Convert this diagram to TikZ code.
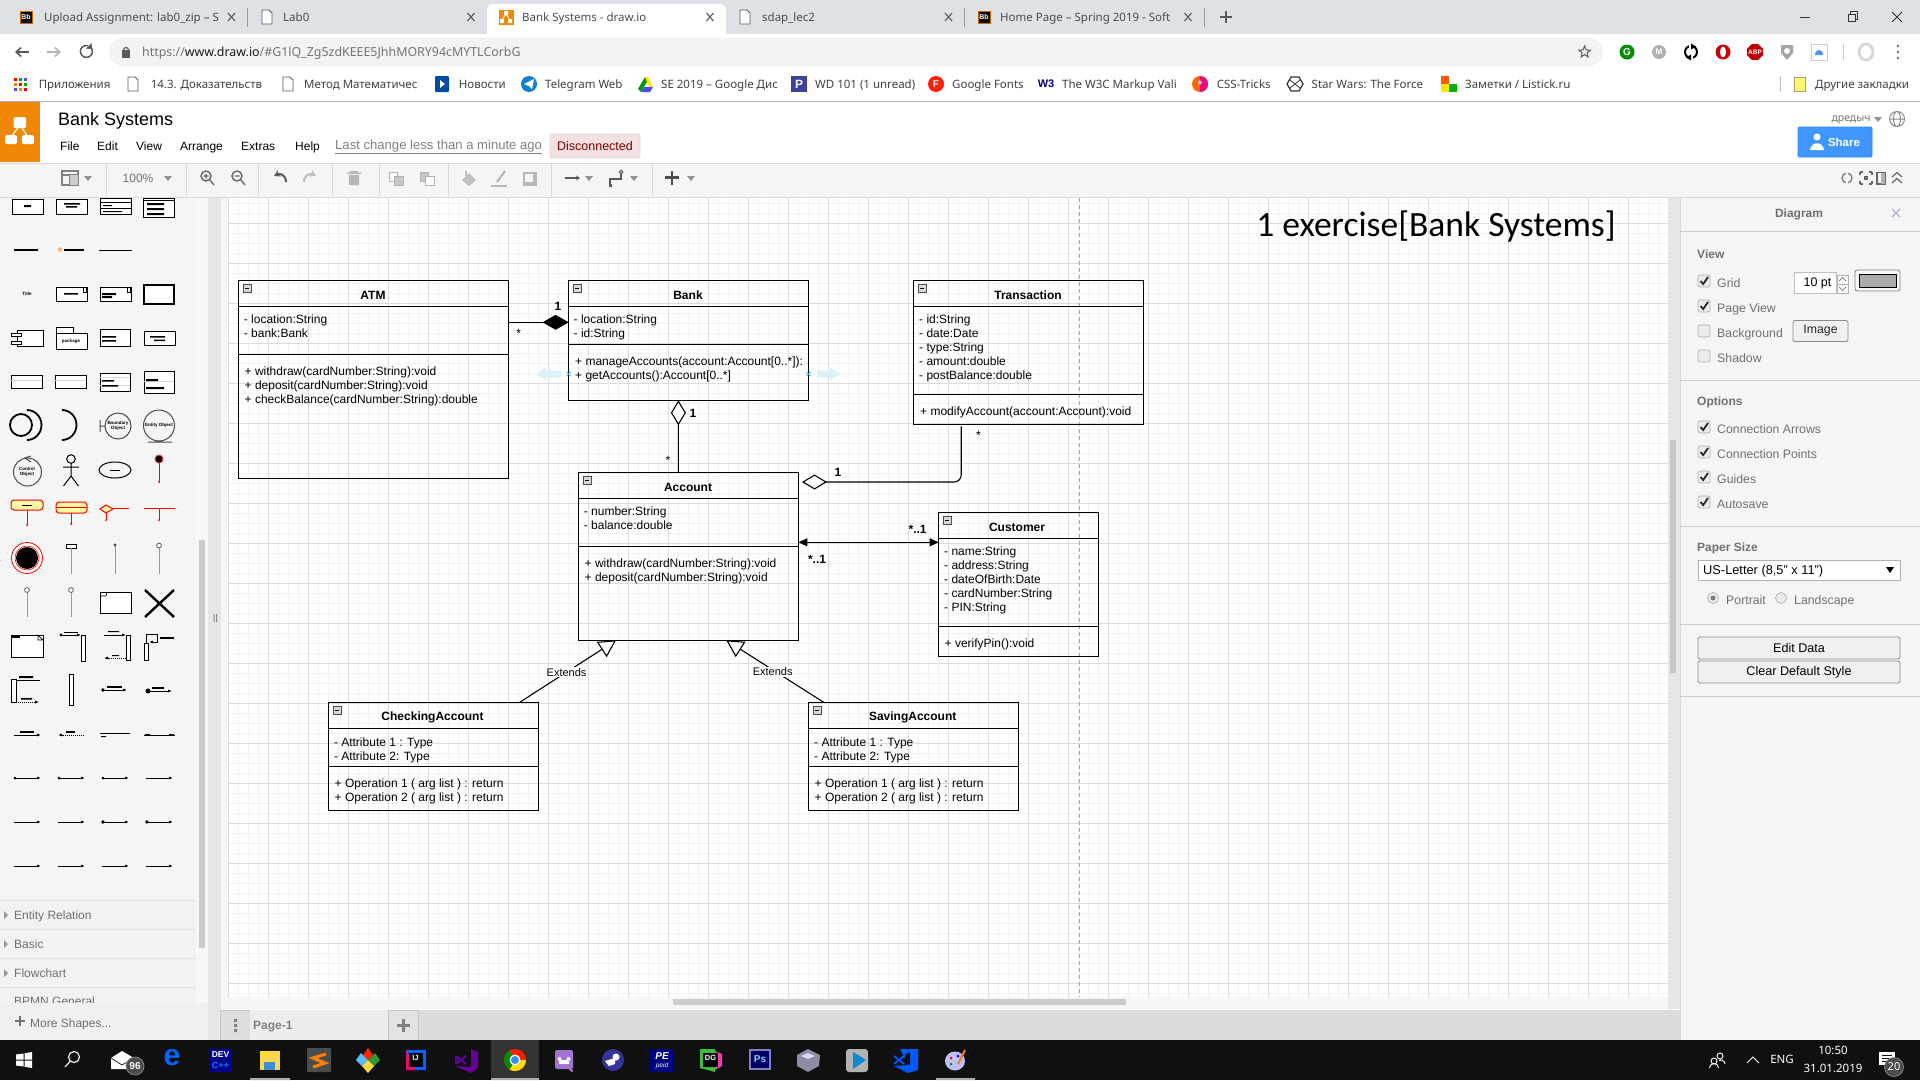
\documentclass[tikz,border=0pt]{standalone}
\usepackage{fontspec}
\setmainfont{Liberation Sans}
\newfontfamily\uifont{Noto Sans}
\newfontfamily\titlefont{Carlito}
\usetikzlibrary{arrows.meta,calc,shapes.geometric}
\definecolor{tabbar}{HTML}{DEE1E6}
\definecolor{pill}{HTML}{F1F3F4}
\definecolor{panel}{HTML}{F5F5F5}
\definecolor{border}{HTML}{DADADA}
\definecolor{icongray}{HTML}{808080}
\definecolor{uitxt}{HTML}{707070}
\definecolor{gutter}{HTML}{E6E6E6}
\definecolor{orng}{HTML}{F08705}
\definecolor{grbig}{HTML}{DCDCDC}
\definecolor{grsmall}{HTML}{F2F2F2}
\definecolor{hoverb}{HTML}{DDF1FB}
\definecolor{hoverx}{HTML}{29B6F2}
\definecolor{taskb}{HTML}{101010}
\newcounter{uictr}
\tikzset{
  umlbox/.style={draw=black,line width=1.1pt,inner sep=0pt,outer sep=0pt,anchor=north west},
  umltitle/.style={font=\fontsize{12}{14}\selectfont\bfseries,inner sep=0pt,text=black},
  umltext/.style={font=\fontsize{12}{14}\selectfont,inner sep=0pt,anchor=north west,align=left,text=black},
  umlsep/.style={line width=1.1pt,draw=black},
  conn/.style={line width=1.1pt,draw=black},
  edgelabel/.style={font=\fontsize{11}{13}\selectfont,inner sep=1pt,fill=white,text=black},
  mult/.style={font=\fontsize{12}{14}\selectfont,inner sep=0pt,text=black},
  multb/.style={font=\fontsize{12}{14}\selectfont\bfseries,inner sep=0pt,text=black},
  uilabel/.style={font=\fontsize{12.3}{14}\selectfont,inner sep=0pt,anchor=west,text=uitxt,text height=9pt,text depth=2pt,yshift=-1.5pt},
  chrome/.style={font=\uifont\fontsize{11.5}{13}\selectfont,inner sep=0pt,anchor=west,text=black!75,text height=9pt,text depth=2pt,yshift=-1pt},
  tabtxt/.style={font=\uifont\fontsize{11.5}{13}\selectfont,inner sep=0pt,anchor=west,text=black!70,text height=9pt,text depth=2pt,yshift=-1pt},
  menu/.style={font=\fontsize{12}{14}\selectfont,inner sep=0pt,anchor=west,text=black,text height=9pt,text depth=2pt,yshift=-.5pt},
  tbicon/.style={draw=icongray,line width=1.4pt,fill=none},
  tbsep/.style={draw=border,line width=.8pt},
  sbshape/.style={draw=black,line width=1pt,fill=white},
  sbline/.style={draw=black,line width=.8pt},
  sbred/.style={draw=red,line width=1pt},
  sbgray/.style={draw=black!40,line width=.8pt},
  sidetxt/.style={font=\fontsize{12}{14}\selectfont,inner sep=0pt,anchor=west,text=uitxt,text height=9pt,text depth=2pt,yshift=-.7pt},
  tiny/.style={font=\fontsize{4.5}{5}\selectfont\bfseries,inner sep=0pt,text=black,align=center},
  btn/.style={draw=black!45,line width=.8pt,fill=black!6,rounded corners=1.5pt},
  taskt/.style={inner sep=0pt,text=white,font=\uifont\fontsize{11.5}{13}\selectfont,text height=9pt,text depth=2pt},
}
\newcommand\uit[4][uilabel]{\stepcounter{uictr}\node[#1] (ui\arabic{uictr}) at (#2,#3) {#4};}
\newcommand\mystrut{\rule[-3.5pt]{0pt}{15pt}}
\newcommand\umlclass[7]{%
  \node[umlbox,minimum width=#4pt-#2pt,minimum height=#7pt-#3pt] (#1) at (#2,#3) {};
  \draw[umlsep] (#2,#5) -- (#4,#5);
  \draw[umlsep] (#2,#6) -- (#4,#6);
  \draw[draw=black!70,fill=black!15,line width=.7pt] ($(#2,#3)+(4.5,4.5)$) rectangle +(8,8);
  \draw[draw=black,line width=.8pt] ($(#2,#3)+(6.5,8.5)$) -- +(4,0);
}
\newcommand\chkbox[3]{%
  \draw[draw=black!30,fill=black!8,rounded corners=2pt,line width=.7pt] (#1-6,#2-6) rectangle (#1+6,#2+6);
  \ifnum#3=1 \draw[draw=black!85,line width=1.8pt] (#1-3.5,#2) -- (#1-.8,#2+3) -- (#1+4,#2-4); \fi
}
\newcommand\docico[2]{\draw[draw=black!65,line width=.9pt,fill=white] (#1-5,#2-7) -- (#1+2,#2-7) -- (#1+5,#2-4) -- (#1+5,#2+7) -- (#1-5,#2+7) -- cycle;}
\newcommand\bbico[2]{\fill[orange!80!black] (#1-6.5,#2-6.5) rectangle (#1+6.5,#2+6.5); \fill[black] (#1-5.5,#2-5.5) rectangle (#1+5.5,#2+5.5);
  \uit[{font=\fontsize{7}{8}\selectfont\bfseries,inner sep=0pt,text=white}]{#1}{#2}{Bb}}
\newcommand\drawico[2]{\fill[orng] (#1-7.5,#2-7.5) rectangle (#1+7.5,#2+7.5);
  \draw[white,line width=.8pt] (#1,#2-3) -- (#1-4,#2+3) (#1,#2-3) -- (#1+4,#2+3);
  \fill[white] (#1-2,#2-6) rectangle (#1+2,#2-2) (#1-6,#2+2) rectangle (#1-2,#2+6) (#1+2,#2+2) rectangle (#1+6,#2+6);}
\newcommand\tabx[2]{\draw[draw=black!65,line width=1.1pt] (#1-3.5,#2-4) -- (#1+3.5,#2+4) (#1-3.5,#2+4) -- (#1+3.5,#2-4);}
\newcommand\tri[2]{\fill[icongray!85] (#1-4,#2-2) -- (#1+4,#2-2) -- (#1,#2+3) -- cycle;}
\newcommand\hdarrow[3]{\draw[sbline,-{Latex[length=4pt,width=3pt]}] (#1,#3) -- (#2,#3);}
\begin{document}
\begin{tikzpicture}[x=1pt,y=-1pt]
\useasboundingbox (0,0) rectangle (1920,1080);
% ---------- base
\fill[white] (0,0) rectangle (1920,1080);
\fill[tabbar] (0,0) rectangle (1920,34);
% canvas grid
\begin{scope}
\clip (228,198) rectangle (1668,997);
\foreach \x in {228,238,...,1668} \draw[grsmall,line width=.8pt] (\x,198) -- (\x,997);
\foreach \y in {203,213,...,993} \draw[grsmall,line width=.8pt] (228,\y) -- (1668,\y);
\foreach \x in {228,268,...,1668} \draw[grbig,line width=.8pt] (\x,198) -- (\x,997);
\foreach \y in {223,263,...,983} \draw[grbig,line width=.8pt] (228,\y) -- (1668,\y);
\draw[black!35,line width=.8pt,dash pattern=on 4pt off 3pt] (1079,198) -- (1079,997);
\end{scope}
% gutters
\fill[panel] (0,198) rectangle (196,1003);
\fill[black!3] (196,198) rectangle (208,1003);
\fill[gutter] (208,198) rectangle (221,1040);
\fill[panel] (221,198) rectangle (228,1010);
\fill[panel] (228,997) rectangle (1668,1010);
\fill[black!20] (199,540) rectangle (205,948);
\fill[black!45] (213.5,614) rectangle (214.5,622) (216,614) rectangle (217,622);
\fill[black!20] (673,999) rectangle (1126,1005);
\fill[gutter] (1668,198) rectangle (1680,1040);
\fill[black!22] (1670,440) rectangle (1676,673);
% ---------- tab strip
\fill[white,rounded corners=6pt] (487,4) rectangle (726,40);
\fill[white] (480,34) rectangle (733,40);
\fill[white] (0,34) rectangle (1920,100);
\bbico{26}{17}
\uit[tabtxt]{44}{17}{Upload Assignment: lab0\_zip – S}
\tabx{231.5}{17}
\draw[black!40,line width=.8pt] (247.5,8) -- (247.5,27);
\docico{267}{17}
\uit[tabtxt]{283}{17}{Lab0}
\tabx{471}{17}
\drawico{506}{17}
\uit[tabtxt]{522}{17}{Bank Systems - draw.io}
\tabx{710}{17}
\docico{745}{17}
\uit[tabtxt]{762}{17}{sdap\_lec2}
\tabx{948.5}{17}
\draw[black!40,line width=.8pt] (964,8) -- (964,27);
\bbico{984}{17}
\uit[tabtxt]{1000}{17}{Home Page – Spring 2019 - Soft}
\tabx{1188}{17}
\draw[black!40,line width=.8pt] (1204,8) -- (1204,27);
\draw[black!65,line width=1.5pt] (1220,17) -- (1232,17) (1226,11) -- (1226,23);
\draw[black!80,line width=.9pt] (1800,17) -- (1810,17);
\draw[black!80,line width=.9pt] (1848,14) rectangle (1855,21) (1850,14) -- (1850,11.5) -- (1857.5,11.5) -- (1857.5,19) -- (1855,19);
\draw[black!80,line width=.9pt] (1892,12) -- (1902,22) (1892,22) -- (1902,12);
% ---------- address bar
\fill[pill,rounded corners=14pt] (109,38) rectangle (1603,66);
\draw[black!65,line width=1.6pt,-{Straight Barb[length=5pt,width=9pt]}] (29,52) -- (15,52);
\draw[black!30,line width=1.6pt,-{Straight Barb[length=5pt,width=9pt]}] (47,52) -- (61,52);
\draw[black!65,line width=1.5pt] (91,47.5) arc (-40:285:6);
\fill[black!65] (91.5,43) -- (92,49) -- (86,48.5) -- cycle;
\fill[black!65] (122,50) rectangle (130,58);
\draw[black!65,line width=1.2pt] (123.5,50) arc (180:360:2.5);
\node[font=\uifont\fontsize{12.4}{14}\selectfont,inner sep=0pt,anchor=west,text=black!55,text height=9pt,text depth=3pt] (url) at (142,53.5) {https://\textcolor{black!90}{www.draw.io}/\#G1lQ\_Zg5zdKEEE5JhhMORY94cMYTLCorbG};
\node[star,star points=5,star point ratio=2.3,draw=black!60,line width=1.1pt,inner sep=0pt,minimum size=12pt] (favstar) at (1584.6,52) {};
% extensions
\fill[green!55!black] (1627,52) circle (7.5);
\uit[{font=\fontsize{10}{11}\selectfont\bfseries,inner sep=0pt,text=white}]{1627}{52}{G}
\fill[black!30] (1659,52) circle (7);
\uit[{font=\fontsize{8}{9}\selectfont\bfseries,inner sep=0pt,text=white}]{1659}{52}{M}
\draw[black,line width=2pt] (1691,52) circle (6);
\fill[white] (1689,44) -- (1693,44) -- (1693,49) -- (1689,49) -- cycle (1689,55) rectangle (1693,60);
\fill[black] (1691,43.5) -- (1696,46.5) -- (1691,49.5) -- cycle (1691,54.5) -- (1686,57.5) -- (1691,60.5) -- cycle;
\fill[red!80!black] (1723,52) circle (7.5);
\fill[white] (1723,52) ellipse (3 and 5.5);
\node[regular polygon,regular polygon sides=8,fill=red!75!black,minimum size=17pt,inner sep=0pt] (abp) at (1755,52) {};
\uit[{font=\fontsize{6.5}{7}\selectfont\bfseries,inner sep=0pt,text=white}]{1755}{52}{ABP}
\fill[black!35] (1781,45) -- (1793,45) -- (1793,53) -- (1787,60) -- (1781,53) -- cycle;
\fill[white] (1787,51) circle (3);
\draw[black!20,fill=white,line width=.7pt] (1811,44) rectangle (1827,60);
\fill[blue!60!cyan!70] (1815,55) -- (1823,55) -- (1823,54) arc (0:-180:4) -- cycle;
\draw[black!20,line width=.8pt] (1843,44) -- (1843,60);
\draw[black!15,line width=3pt] (1866,52) ellipse (7 and 8);
\fill[black!55] (1898,46) circle (1.3) (1898,52) circle (1.3) (1898,58) circle (1.3);
% ---------- bookmarks
\foreach \xa/\ya/\c in {14/78/red,19/78/green!70!black,24/78/blue!70,14/83/orange,19/83/red,24/83/green!70!black,14/88/blue!70,19/88/orange,24/88/red}
  \fill[\c] (\xa,\ya) rectangle +(3.4,3.4);
\uit[chrome]{38.6}{84}{Приложения}
\docico{133}{84}
\uit[chrome]{150.6}{84}{14.3. Доказательств}
\docico{288}{84}
\uit[chrome]{304}{84}{Метод Математичес}
\fill[blue!50!black!70!cyan,rounded corners=1pt] (435,76) rectangle (449,92);
\fill[white] (440,80) -- (445,84) -- (440,88) -- cycle;
\uit[chrome]{458.7}{84}{Новости}
\fill[cyan!65!blue] (529,84) circle (8);
\fill[white] (524,84) -- (534,79) -- (532,89) -- (529,86) -- cycle;
\uit[chrome]{545}{84}{Telegram Web}
\fill[green!60!black] (645,77) -- (638,89) -- (641,92) -- (648,80) -- cycle;
\fill[yellow!90!orange] (645,77) -- (648,77) -- (653,87) -- (649,87) -- cycle;
\fill[blue!70] (641,92) -- (650,92) -- (653,87) -- (644,87) -- cycle;
\uit[chrome]{661}{84}{SE 2019 – Google Дис}
\fill[blue!50!black!75] (791,76) rectangle (807,92);
\uit[{font=\fontsize{12}{13}\selectfont\bfseries,inner sep=0pt,text=white}]{799}{84}{P}
\uit[chrome]{815}{84}{WD 101 (1 unread)}
\fill[red!75!orange] (936,84) circle (8);
\uit[{font=\fontsize{10}{11}\selectfont\bfseries,inner sep=0pt,text=white}]{936}{84}{F}
\uit[chrome]{952}{84}{Google Fonts}
\uit[{font=\fontsize{11}{12}\selectfont\bfseries,inner sep=0pt,text=blue!50!black}]{1046}{84}{W3}
\uit[chrome]{1062}{84}{The W3C Markup Vali}
\fill[orange!80!red] (1200,84) circle (8);
\fill[magenta!80!red] (1200,92) arc (90:-90:8) -- cycle;
\uit[{font=\fontsize{11}{12}\selectfont\bfseries,inner sep=0pt,text=white}]{1200}{85}{*}
\uit[chrome]{1216.6}{84}{CSS-Tricks}
\node[regular polygon,regular polygon sides=6,draw=black!80,line width=1.2pt,minimum size=16pt,inner sep=0pt] (swhex) at (1295,84) {};
\draw[black!80,line width=.8pt] (1290,80) -- (1300,88) (1300,80) -- (1290,88);
\uit[chrome]{1311.5}{84}{Star Wars: The Force}
\fill[orange!70!red] (1441,76) rectangle (1449,84);
\fill[yellow!90!orange] (1441,84) rectangle (1449,92);
\fill[green!70!black] (1449,84) rectangle (1457,92);
\uit[chrome]{1465}{84}{Заметки / Listick.ru}
\draw[black!25,line width=.8pt] (1780,76) -- (1780,92);
\draw[orange!60!black!60,fill=yellow!55,line width=.7pt] (1794,77) rectangle (1805,91);
\uit[chrome]{1815}{84}{Другие закладки}
\draw[black!30,line width=.9pt] (0,101) -- (1920,101);
% ---------- draw.io header
\fill[orng] (0,102) rectangle (40,162);
\draw[white,line width=1.2pt] (20,125) -- (11,137) (20,125) -- (28,137);
\fill[white,rounded corners=1.5pt] (13.5,117) rectangle (26,128) (5,135) rectangle (17,144) (22,135) rectangle (34,144);
\node[font=\fontsize{18}{20}\selectfont,inner sep=0pt,anchor=west,text=black] (doctitle) at (58,121) {Bank Systems};
\uit[menu]{60}{146}{File}
\uit[menu]{97}{146}{Edit}
\uit[menu]{136}{146}{View}
\uit[menu]{180}{146}{Arrange}
\uit[menu]{241}{146}{Extras}
\uit[menu]{295}{146}{Help}
\node[font=\fontsize{13.1}{15}\selectfont,inner sep=0pt,anchor=west,text=black!50,text height=9pt,text depth=2pt] (lastchange) at (335,146) {\underline{Last change less than a minute ago}};
\node[draw=red!30!black!15,fill=red!60!black!12,rounded corners=1pt,font=\fontsize{12.5}{14}\selectfont,text=red!50!black,inner sep=0pt,minimum width=90pt,minimum height=24pt,line width=.7pt] (disc) at (595,146) {Disconnected};
\uit[{font=\uifont\fontsize{10.5}{12}\selectfont,inner sep=0pt,text=black!55}]{1851}{120}{дредыч}
\tri{1878}{119}
\draw[black!45,line width=1pt] (1897,119) circle (7.5) (1897,119) ellipse (3.5 and 7.5) (1889.5,119) -- (1904.5,119);
\node[fill=blue!55!cyan!75,draw=blue!60!cyan!80,line width=.6pt,rounded corners=1pt,minimum width=74pt,minimum height=30pt,inner sep=0pt] (sharebtn) at (1835,142) {};
\fill[white] (1817,137) circle (3.5) (1810,150) .. controls (1811,141) and (1823,141) .. (1824,150) -- cycle;
\node[font=\fontsize{11.5}{13}\selectfont\bfseries,text=white,inner sep=0pt] (sharetxt) at (1844,142) {Share};
% ---------- toolbar
\fill[panel] (0,163) rectangle (1920,197);
\draw[border,line width=.8pt] (0,163) -- (1920,163) (0,197) -- (1920,197);
\foreach \s in {106.5,186,258,332,379,448,551,652} \draw[tbsep] (\s,164) -- (\s,196);
\draw[tbicon] (62,171) rectangle (78,185) (62,175) -- (78,175) (70,175) -- (70,185);
\fill[black!20] (70,175) rectangle (78,185);
\tri{88}{178}
\uit[{font=\fontsize{12}{14}\selectfont,inner sep=0pt,text=uitxt}]{138}{178}{100\%}
\tri{168}{178}
\draw[draw=black!60,line width=1.4pt] (206,176) circle (5) (210,180) -- (214,185) (203.5,176) -- (208.5,176) (206,173.5) -- (206,178.5);
\draw[draw=black!60,line width=1.4pt] (237,176) circle (5) (241,180) -- (245,185) (234.5,176) -- (239.5,176);
\draw[draw=black!65,line width=2pt,-{Stealth[length=6pt,width=7pt]}] (286,182) .. controls (286,175) and (280,173) .. (274,176);
\draw[draw=black!25,line width=2pt,-{Stealth[length=6pt,width=7pt]}] (304,182) .. controls (304,175) and (310,173) .. (316,176);
\fill[black!28] (347,172.5) rectangle (361,174) (350,171) rectangle (358,172.5) (349,175) rectangle (359,185);
\draw[black!30,fill=white,line width=1pt] (389,172) rectangle (397,181);
\draw[black!30,fill=black!22,line width=1pt] (394,176) rectangle (403,185);
\draw[black!30,fill=black!22,line width=1pt] (420,172) rectangle (428,181);
\draw[black!30,fill=white,line width=1pt] (425,176) rectangle (434,185);
\fill[black!25] (469,173) -- (476,180) -- (469,186) -- (462,180) -- cycle;
\draw[black!25,line width=1.1pt] (466,176) -- (466,171);
\draw[black!28,line width=2.2pt] (497,182) -- (505,171);
\fill[black!28] (491,185) rectangle (507,187);
\fill[black!28] (523,172) rectangle (537,186);
\fill[panel] (525,174) rectangle (533,182);
\draw[black!65,line width=1.4pt,-{Stealth[length=4pt,width=5pt]}] (565,178) -- (580,178);
\tri{589}{178}
\draw[black!65,line width=1.3pt] (610,185) -- (610,179) -- (621,179) -- (621,172);
\fill[black!65] (608.5,183.5) rectangle (611.5,186.5);
\draw[black!65,fill=panel,line width=1pt] (621,172) circle (1.8);
\tri{634}{178}
\draw[black!70,line width=2.6pt] (665,177.5) -- (679,177.5) (672,170.5) -- (672,184.5);
\tri{691}{178}
% right icons
\draw[black!55,line width=1.2pt] (1847,178) circle (5);
\fill[panel] (1846,171) rectangle (1848,185);
\draw[black!60,line width=1.3pt] (1860,172) -- (1863,172) (1869,172) -- (1872,172) (1860,184) -- (1863,184) (1869,184) -- (1872,184) (1860,172) -- (1860,175) (1872,172) -- (1872,175) (1860,184) -- (1860,181) (1872,184) -- (1872,181);
\fill[black!60] (1864,176) rectangle (1868,180);
\draw[black!60,line width=1.1pt] (1877,172.5) rectangle (1885,184);
\fill[black!30] (1881,173) rectangle (1885,184);
\draw[black!60,line width=1.2pt] (1892,177) -- (1897,172.5) -- (1902,177) (1892,183) -- (1897,178.5) -- (1902,183);
% ---------- right panel
\fill[panel] (1680,198) rectangle (1920,1040);
\draw[border,line width=.8pt] (1680,198) -- (1680,1040);
\foreach \yy in {231,380,526,624,696} \draw[black!20,line width=.8pt] (1680,\yy) -- (1920,\yy);
\uit[{font=\fontsize{12}{14}\selectfont\bfseries,inner sep=0pt,text=uitxt}]{1799}{214}{Diagram}
\draw[blue!30!black!30,line width=1.3pt] (1892,209) -- (1900,217) (1892,217) -- (1900,209);
\tikzset{phead/.style={font=\fontsize{12}{14}\selectfont\bfseries,inner sep=0pt,anchor=west,text=uitxt,text height=9pt,text depth=2pt}}
\uit[phead]{1697}{255}{View}
\uit[phead]{1697}{402}{Options}
\uit[phead]{1697}{547.5}{Paper Size}
\chkbox{1704}{281}{1}\uit{1717}{282}{Grid}
\chkbox{1704}{306}{1}\uit{1717}{307}{Page View}
\chkbox{1704}{331}{0}\uit{1717}{332}{Background}
\chkbox{1704}{356}{0}\uit{1717}{357}{Shadow}
\chkbox{1704}{427}{1}\uit{1717}{428}{Connection Arrows}
\chkbox{1704}{452}{1}\uit{1717}{453}{Connection Points}
\chkbox{1704}{477}{1}\uit{1717}{478}{Guides}
\chkbox{1704}{502}{1}\uit{1717}{503}{Autosave}
\node[fill=white,draw=black!25,line width=.7pt,minimum width=42pt,minimum height=21pt,inner sep=0pt,font=\fontsize{12.5}{14}\selectfont,text=black,align=right] (ptbox) at (1815,283) {\hspace*{5pt}10 pt};
\draw[black!30,fill=black!3,line width=.7pt] (1837,275) rectangle (1848,293) (1837,284) -- (1848,284);
\draw[black!50,line width=.7pt] (1839,281) -- (1842.5,277.5) -- (1846,281) (1839,287) -- (1842.5,290.5) -- (1846,287);
\draw[black!50,fill=black!3,rounded corners=2.5pt,line width=.8pt] (1855,270) rectangle (1900,291);
\draw[black,fill=black!33,line width=.9pt] (1859,274) rectangle (1896,287);
\node[btn,font=\fontsize{12.3}{14}\selectfont,minimum width=55pt,minimum height=21pt,inner sep=0pt,text=black!85] (imgbtn) at (1820.5,331) {\raisebox{-1pt}{Image}};
\node[fill=white,draw=black!30,line width=.7pt,minimum width=202pt,minimum height=20pt,inner sep=0pt] (papersel) at (1799,570) {};
\uit[{font=\fontsize{12.8}{14}\selectfont,inner sep=0pt,anchor=west,text=black}]{1703}{571}{US-Letter (8,5" x 11")}
\fill[black] (1886,567) -- (1894,567) -- (1890,573) -- cycle;
\draw[black!30,fill=black!8,line width=.7pt] (1713,598) circle (5.5);
\fill[black!50] (1713,598) circle (2.5);
\uit{1726}{599.5}{Portrait}
\draw[black!30,fill=black!8,line width=.7pt] (1781,598) circle (5.5);
\uit{1794}{599.5}{Landscape}
\node[btn,font=\fontsize{12.6}{14}\selectfont,minimum width=202pt,minimum height=22pt,inner sep=0pt,text=black] (editdata) at (1799,648) {Edit Data};
\node[btn,font=\fontsize{12.6}{14}\selectfont,minimum width=202pt,minimum height=22pt,inner sep=0pt,text=black] (cleards) at (1799,672) {\raisebox{-1pt}{Clear Default Style}};
% ---------- page tabs
\fill[black!1] (221,1009) rectangle (1680,1010);
\fill[grbig] (221,1010) rectangle (1680,1040);
\draw[black!22,fill=black!13,line width=.8pt] (220,1010) rectangle (250,1040);
\fill[icongray] (234,1019) rectangle (237,1022) (234,1024) rectangle (237,1027) (234,1029) rectangle (237,1032);
\fill[black!7] (250,1010) rectangle (388,1040);
\node[font=\fontsize{12}{14}\selectfont\bfseries,inner sep=0pt,anchor=west,text=icongray] (pagetab) at (253,1027) {Page-1};
\draw[black!22,line width=.8pt] (250,1040) -- (388,1040);
\draw[black!22,fill=black!11,line width=.8pt] (388,1010) rectangle (418,1040);
\draw[icongray,line width=2.6pt] (397,1025.5) -- (410,1025.5) (403.5,1019) -- (403.5,1032);
% ---------- sidebar sections
\fill[black!5] (0,900) rectangle (196,1003);
\draw[black!12,line width=.7pt] (0,900) -- (196,900) (0,929) -- (196,929) (0,958) -- (196,958) (0,987) -- (196,987);
\foreach \yy in {915,944,973} \fill[black!40] (4,\yy-4) -- (8,\yy) -- (4,\yy+4) -- cycle;
\uit[sidetxt]{14}{915}{Entity Relation}
\uit[sidetxt]{14}{944}{Basic}
\uit[sidetxt]{14}{973}{Flowchart}
\begin{scope}
\clip (0,987) rectangle (196,1003);
\uit[sidetxt]{14}{1001}{BPMN General}
\end{scope}
\fill[black!6] (0,1003) rectangle (208,1040);
\draw[black!55,line width=1.7pt] (15,1021) -- (25,1021) (20,1016) -- (20,1026);
\uit[sidetxt]{30}{1023}{More Shapes...}
% ---------- sidebar shapes
\begin{scope}
\draw[sbshape] (12,199) rectangle (43,214) (56,199) rectangle (87,214) (100,198) rectangle (131,214) (143,198) rectangle (174,217);
\draw[sbline] (100,202) -- (131,202) (100,208) -- (131,208) (143,200) -- (174,200);
\fill[black] (24,205) rectangle (31,207) (64,203) rectangle (80,204.5) (66,206) rectangle (77,207.5) (103,205) rectangle (112,206) (103,211) rectangle (122,212);
\fill[black] (147,203) rectangle (164,205) (147,208) rectangle (164,210) (147,213) rectangle (164,215);
\fill[black] (14,248.5) rectangle (38,250.5);
\fill[orange!60] (60,249.5) circle (2.2);
\fill[black] (64,249) rectangle (84,250.5);
\draw[sbline] (99,250.5) -- (132,250.5);
\uit[tiny]{27}{294}{Title}
\draw[sbshape] (56,287) rectangle (87,301) (100,287) rectangle (131,301);
\draw[sbline] (83,287) rectangle (86,292) (127,287) rectangle (130,292);
\fill[black] (64,293) rectangle (78,294.5) (102,293) rectangle (116,295) (102,296) rectangle (112,298);
\draw[sbshape,line width=1.6pt] (144,285) rectangle (174,304);
\draw[sbshape] (17,330) rectangle (43,346);
\draw[sbshape] (11,333) rectangle (21,336.5) (11,341) rectangle (21,344.5);
\draw[sbshape] (56,327) rectangle (73,333) (56,333) rectangle (87,349);
\uit[tiny]{71}{341}{package}
\draw[sbshape] (100,329) rectangle (130,346) (144,331) rectangle (175,345);
\fill[black] (102,336) rectangle (116,337.5) (102,340) rectangle (116,341.5) (150,336) rectangle (165,337.5) (154,339.5) rectangle (165,341);
\draw[sbshape] (11,375) rectangle (42,388) (55,375) rectangle (86,388);
\draw[black!15,line width=1pt] (11,380) -- (42,380) (55,380) -- (86,380);
\draw[sbshape] (100,373) rectangle (130,391) (144,371) rectangle (174,393);
\draw[black!15,line width=1pt] (100,377) -- (130,377) (100,385) -- (130,385) (144,381) -- (174,381);
\fill[black] (102,380) rectangle (114,381.5) (102,385) rectangle (118,386.5) (146,379) rectangle (158,381) (146,387) rectangle (164,389);
\draw[black,line width=1.8pt] (21,425) circle (11);
\draw[black,line width=1.8pt] (27,440) arc (90:-90:14.5 and 15);
\draw[black,line width=1.8pt] (62,440) arc (90:-90:14.5 and 15);
\draw[black!70,line width=1pt] (118,426) circle (13) (105,426) -- (100,426) (100,420) -- (100,432);
\uit[tiny]{118}{426}{Boundary\\Object}
\draw[black!70,line width=1pt] (159,425.5) circle (15.5) (148,442) -- (172,442);
\uit[tiny]{159}{425}{Entity Object}
\draw[black!70,line width=1pt] (27.5,472) circle (14);
\draw[black!70,line width=1pt] (31,456) -- (25,458) -- (31,462);
\uit[tiny]{27}{472}{Control\\Object}
\draw[black,line width=1pt] (71,459) circle (4.3) (71,463) -- (71,476) (63,467) -- (79,467) (71,476) -- (63.5,486) (71,476) -- (78.5,486);
\draw[black,line width=1pt] (115,470) ellipse (16 and 8);
\fill[black] (110,469.5) rectangle (120,470.5);
\draw[sbred] (159,462) -- (159,482);
\fill[black] (159,459) circle (3.5);
\draw[red,line width=.7pt] (159,459) circle (4);
\draw[sbred,fill=yellow!35,rounded corners=3pt] (11,500) rectangle (43,510);
\draw[sbred] (27,510) -- (27,525);
\fill[black] (22,504.5) rectangle (32,506);
\draw[sbred,fill=yellow!35,rounded corners=3pt] (56,502) rectangle (87,513);
\draw[sbred] (56,507.5) -- (87,507.5) (71,513) -- (71,524);
\draw[sbred,fill=yellow!35] (100,509) -- (106,505) -- (113,509) -- (106,513) -- cycle;
\draw[sbred] (113,508) -- (129,508) (106,513) -- (106,520);
\draw[sbred] (144,508) -- (175,508) (159,508) -- (159,520);
\fill[red] (27,525) circle (1) (71,524) circle (1) (106,520) circle (1) (159,520) circle (1) (159,482) circle (1);
\draw[red,line width=.8pt,fill=white] (27,558) circle (15.5);
\fill[black] (27,558) circle (11);
\draw[red,line width=.6pt] (27,558) circle (12);
\draw[sbline,fill=white] (66,544) rectangle (76,548);
\draw[sbgray] (71,548) -- (71,574) (115,545) -- (115,574) (159,548) -- (159,574);
\fill[black!70] (115,545) circle (1.6);
\draw[black!70,fill=white,line width=.7pt] (159,545.5) circle (2.4);
\draw[sbgray] (27,592) -- (27,617) (71,592) -- (71,617);
\draw[black!70,fill=white,line width=.7pt] (27,590) circle (2.4) (71,590) circle (2.4);
\draw[sbshape] (100,592) rectangle (131,613);
\draw[black,line width=.7pt] (100,596) -- (106,596) -- (107,592);
\draw[black,line width=2.4pt] (145,590) -- (174,617) (145,617) -- (174,590);
\draw[sbshape] (11,635) rectangle (43,657);
\fill[black] (12,635) rectangle (20,638);
\draw[black,line width=.7pt] (38,635) -- (43,640) -- (38,640) -- cycle;
\draw[sbline,-{Latex[length=4pt,width=3pt]}] (61,635) -- (81,635);
\fill[black] (61,635) circle (1.7);
\draw[sbshape] (81,635) rectangle (85,661);
\fill[black] (64,632) rectangle (78,633);
\draw[sbline,-{Latex[length=4pt,width=3pt]}] (104,635) -- (126,635);
\draw[sbline,dash pattern=on 1pt off 1pt,-{Latex[length=4pt,width=3pt]}] (126,658) -- (104,658);
\draw[sbshape] (126,635) rectangle (130,660);
\fill[black] (108,631) rectangle (119,632) (112,655) rectangle (119,656);
\draw[sbshape] (144,643) rectangle (148,660);
\draw[sbline,-{Latex[length=4pt,width=3pt]}] (146,643) -- (146,634) -- (157,634) -- (157,642) -- (149,642);
\fill[black] (160,637) rectangle (174,639);
\draw[sbshape] (11,679) rectangle (16,702);
\draw[sbline] (16,680) -- (40,680);
\draw[sbline,dash pattern=on 1pt off 1pt,-{Latex[length=4pt,width=3pt]}] (16,702) -- (39,702);
\fill[black] (19,676) rectangle (33,678) (21,698) rectangle (32,699.5);
\draw[sbshape] (69,674) rectangle (73,705);
\hdarrow{103}{127}{690}
\fill[black] (103,690) circle (1.8);
\fill[black] (107,686) rectangle (122,688);
\hdarrow{148}{172}{691}
\fill[black] (148,691) circle (2.5);
\fill[black] (152,687) rectangle (164,689);
\hdarrow{14}{41}{735}
\fill[black] (20,731) rectangle (34,733);
\draw[sbline,dash pattern=on 1pt off 1pt,-{Latex[length=4pt,width=3pt]}] (84,735) -- (58,735);
\fill[black] (66,731) rectangle (75,733);
\draw[sbline] (100,733) -- (130,733) (144,735) -- (175,735);
\fill[black] (101,736) rectangle (106,737) (145,734) rectangle (150,735) (169,734) rectangle (174,735);
\foreach \yy in {778,822,866} {
  \hdarrow{14}{41}{\yy} \hdarrow{58}{85}{\yy} \hdarrow{102}{129}{\yy} \hdarrow{146}{173}{\yy}
}
\fill[black] (15,778) circle (1.5) (59,778) circle (1.5) (103,778) circle (1.5) (103,822) circle (1.8) (147,822) circle (1.8);
\end{scope}
% ---------- taskbar
\fill[taskb] (0,1040) rectangle (1920,1080);
\fill[black!80] (491,1040) rectangle (539,1080);
\fill[black!33] (250,1078) rectangle (290,1080) (491,1078) rectangle (539,1080) (936,1078) rectangle (975,1080);
\fill[white] (16,1054.5) -- (23.5,1053.5) -- (23.5,1059.5) -- (16,1059.5) -- cycle (24.5,1053.3) -- (32,1052) -- (32,1059.5) -- (24.5,1059.5) -- cycle (16,1060.5) -- (23.5,1060.5) -- (23.5,1066.5) -- (16,1065.5) -- cycle (24.5,1060.5) -- (32,1060.5) -- (32,1068) -- (24.5,1066.7) -- cycle;
\draw[white,line width=1.1pt] (74,1057) circle (5.5) (70,1061.5) -- (65,1067);
\fill[white] (111,1058) -- (122,1051) -- (134,1058) -- (134,1069) -- (111,1069) -- cycle;
\draw[taskb,line width=.7pt] (111,1058) -- (122,1065) -- (134,1058);
\node[circle,fill=black!70,draw=black!45,line width=.7pt,inner sep=0pt,minimum size=18pt,font=\fontsize{10}{11}\selectfont\bfseries,text=white] (mailbadge) at (135,1066) {96};
\uit[{font=\fontsize{30}{30}\selectfont\bfseries,inner sep=0pt,text=blue!60!cyan}]{172}{1058}{e}
\fill[blue!55!black] (210,1049) rectangle (232,1072);
\uit[{font=\fontsize{8.5}{9}\selectfont\bfseries,inner sep=0pt,text=white}]{220.5}{1055}{DEV}
\uit[{font=\fontsize{9}{9}\selectfont\bfseries,inner sep=0pt,text=blue!50!cyan}]{220.5}{1065}{C++}
\fill[yellow!60!orange!70] (260,1051) rectangle (280,1070);
\fill[yellow!80!orange!85] (260,1051) rectangle (269,1055);
\fill[cyan!60!blue!80] (264,1062) rectangle (275,1070);
\fill[black!70,rounded corners=1pt] (307,1048) rectangle (331,1072);
\draw[orange,line width=3pt] (326,1054) -- (313,1058) -- (325,1063) -- (313,1067);
\fill[red!70!orange] (368,1048) -- (373,1055) -- (368,1060) -- (363,1055) -- cycle;
\fill[blue!40!cyan!65] (368,1060) -- (361,1053) -- (356,1060) -- (362,1066) -- cycle;
\fill[green!50!black!80] (368,1060) -- (375,1053) -- (380,1060) -- (374,1066) -- cycle;
\fill[yellow!70!orange!75] (368,1060) -- (374,1066) -- (368,1073) -- (362,1066) -- cycle;
\fill[blue!60!cyan] (406,1050) rectangle (426,1070);
\fill[magenta!70!red] (406,1050) -- (406,1070) -- (416,1070) -- cycle;
\fill[black] (409,1053) rectangle (423,1067);
\uit[{font=\fontsize{7.5}{8}\selectfont\bfseries,inner sep=0pt,text=white}]{415.5}{1058}{IJ}
\fill[violet!80!blue] (471,1049) -- (478,1052) -- (478,1068) -- (471,1073) -- (455,1066) -- (471,1067) -- cycle;
\draw[violet!75!blue,line width=2pt] (456,1056) -- (466,1064) (466,1056) -- (456,1064) (456,1056) -- (456,1064);
\fill[red!75!orange] (515,1060) circle (11);
\fill[yellow!80!orange] (515,1060) -- (526,1060) arc (0:120:11) -- cycle;
\fill[green!55!black] (515,1060) -- (509.5,1069.5) arc (120:240:11) -- cycle;
\fill[white] (515,1060) circle (5.5);
\fill[blue!55!cyan!80] (515,1060) circle (4);
\fill[blue!35!violet!55!white,rounded corners=2pt] (555,1050) rectangle (573,1069) -- (573,1073) -- (568,1069) -- cycle;
\fill[white] (559.5,1059) circle (2) (568.5,1059) circle (2) (559,1060) rectangle (569,1064);
\fill[blue!50!black!80] (613,1060) circle (11);
\fill[white] (616,1057) circle (3.5) (605,1061) -- (615,1058) -- (615,1064) -- (609,1066) -- cycle;
\fill[blue!50!black] (650,1049) rectangle (674,1072);
\uit[{font=\fontsize{10}{11}\selectfont\bfseries\itshape,inner sep=0pt,text=white}]{662}{1056}{PE}
\uit[{font=\fontsize{6.5}{7}\selectfont\itshape,inner sep=0pt,text=white}]{662}{1066}{peid}
\fill[green!65!black!75] (700,1049) -- (715,1049) -- (715,1072) -- (700,1068) -- cycle;
\fill[magenta!75] (715,1051) -- (722,1054) -- (722,1066) -- (715,1070) -- cycle;
\fill[black] (703,1053) rectangle (718,1067);
\uit[{font=\fontsize{7.5}{8}\selectfont\bfseries,inner sep=0pt,text=white}]{710.5}{1058}{DG}
\fill[blue!50!black!50] (749,1049) rectangle (771,1070);
\fill[blue!40!black] (751,1051) rectangle (769,1068);
\uit[{font=\fontsize{10}{11}\selectfont\bfseries,inner sep=0pt,text=cyan!50!white}]{760}{1059}{Ps}
\fill[blue!20!black!45] (808,1049) -- (820,1055) -- (819,1066) -- (808,1072) -- (797,1066) -- (797,1055) -- cycle;
\fill[white!85!blue] (808,1053) -- (815,1056) -- (808,1059) -- (801,1056) -- cycle;
\fill[black!30,rounded corners=3pt] (846,1049) rectangle (868,1072);
\fill[cyan!70!blue] (853,1052) -- (866,1060) -- (853,1069) -- cycle;
\fill[blue!65!cyan] (900,1049) -- (906,1049) -- (918,1049) -- (918,1070) -- (908,1073) -- (894,1066) -- (908,1065) -- cycle;
\fill[taskb] (910,1052) -- (905,1055) -- (905,1062) -- (910,1065) -- cycle;
\draw[blue!65!cyan,line width=1.8pt] (894,1056) -- (904,1064) (904,1056) -- (894,1064);
\fill[white!75!blue] (955,1061) ellipse (10 and 9.5);
\fill[red] (951,1058) circle (1.5); \fill[blue] (958,1056) circle (1.5); \fill[green!60!black] (951,1064) circle (1.5);
\draw[orange!70!brown,line width=2pt] (958,1064) -- (965,1050);
\draw[white,line width=.9pt] (1714,1061) circle (3) (1709.5,1068) arc (180:360:4.5) (1720,1056) circle (3) (1719,1060.5) arc (240:360:4);
\draw[white,line width=1pt] (1747,1063) -- (1753,1057) -- (1759,1063);
\uit[taskt]{1782}{1060}{ENG}
\uit[taskt]{1833}{1051}{10:50}
\uit[taskt]{1833}{1069}{31.01.2019}
\fill[white] (1879,1052) rectangle (1895,1065);
\draw[taskb,line width=.8pt] (1882,1055) -- (1892,1055) (1882,1058) -- (1892,1058) (1882,1061) -- (1892,1061);
\node[circle,fill=black!70,draw=black!45,line width=.7pt,inner sep=0pt,minimum size=19pt,font=\uifont\fontsize{11}{12}\selectfont\bfseries,text=white] (chatbadge) at (1894,1067) {20};
% ---------- hover arrows on Bank
\fill[hoverb] (536,374) -- (546,367) -- (546,370.5) -- (561,370.5) -- (561,377.5) -- (546,377.5) -- (546,381) -- cycle;
\fill[hoverb] (840,374) -- (830,367) -- (830,370.5) -- (817,370.5) -- (817,377.5) -- (830,377.5) -- (830,381) -- cycle;
% ---------- UML classes
\umlclass{atm}{238.6}{280.3}{508.6}{306.3}{354.3}{478.3}
\umlclass{bank}{568.6}{280.3}{808.6}{306.3}{344.3}{400.3}
\umlclass{trans}{913.6}{280.3}{1143.6}{306.3}{394.3}{424.3}
\umlclass{account}{578.4}{472.3}{798.4}{498.3}{546.3}{640.3}
\umlclass{customer}{938.6}{512.3}{1098.6}{538.3}{626.3}{656.3}
\umlclass{checking}{328.4}{702.3}{538.4}{728.3}{766.3}{810.3}
\umlclass{saving}{808.4}{702.3}{1018.4}{728.3}{766.3}{810.3}
\draw[hoverx,line width=.8pt] (566.6,372) -- (570.6,376) (566.6,376) -- (570.6,372) (806.6,372) -- (810.6,376) (806.6,376) -- (810.6,372);
% titles
\node[umltitle] (atmT) at (373,295.5) {ATM};
\node[umltitle] (bankT) at (688,295.5) {Bank};
\node[umltitle] (transT) at (1028,295.5) {Transaction};
\node[umltitle] (accountT) at (688,487.5) {Account};
\node[umltitle] (customerT) at (1017,527) {Customer};
\node[umltitle] (checkingT) at (432.5,717) {CheckingAccount};
\node[umltitle] (savingT) at (912.7,717) {SavingAccount};
% attributes / operations
\node[umltext] (atmA) at (243.7,312.2) {\mystrut - location:String\\- bank:Bank};
\node[umltext] (atmO) at (244.5,364.2) {\mystrut + withdraw(cardNumber:String):void\\+ deposit(cardNumber:String):void\\+ checkBalance(cardNumber:String):double};
\node[umltext] (bankA) at (573.5,312.2) {\mystrut - location:String\\- id:String};
\node[umltext] (bankO) at (575,354.2) {\mystrut + manageAccounts(account:Account[0..*]):\\+ getAccounts():Account[0..*]};
\node[umltext] (transA) at (919,312.2) {\mystrut - id:String\\- date:Date\\- type:String\\- amount:double\\- postBalance:double};
\node[umltext] (transO) at (920,404.2) {\mystrut + modifyAccount(account:Account):void};
\node[umltext] (accountA) at (583.7,504.2) {\mystrut - number:String\\- balance:double};
\node[umltext] (accountO) at (584.5,556.2) {\mystrut + withdraw(cardNumber:String):void\\+ deposit(cardNumber:String):void};
\node[umltext] (customerA) at (944,544.2) {\mystrut - name:String\\- address:String\\- dateOfBirth:Date\\- cardNumber:String\\- PIN:String};
\node[umltext] (customerO) at (944.5,636) {\mystrut + verifyPin():void};
\node[umltext] (checkingA) at (333.8,734.5) {\mystrut - Attribute 1 : Type\\- Attribute 2: Type};
\node[umltext] (checkingO) at (334.5,776.2) {\mystrut + Operation 1 ( arg list ) : return\\+ Operation 2 ( arg list ) : return};
\node[umltext] (savingA) at (814,734.5) {\mystrut - Attribute 1 : Type\\- Attribute 2: Type};
\node[umltext] (savingO) at (814.5,776.2) {\mystrut + Operation 1 ( arg list ) : return\\+ Operation 2 ( arg list ) : return};
% connectors
\draw[conn,{Diamond[fill=black,length=26pt,width=15pt]}-] ([yshift=18pt]bank.west) -- ([yshift=57pt]atm.east);
\draw[conn,{Diamond[open,fill=white,length=25pt,width=15pt]}-] ([xshift=-10.2pt]bank.south) -- ([xshift=-10pt]account.north);
\coordinate (acctip) at ($(account.north east)+(3.6,9.7)$);
\draw[conn,rounded corners=7pt,-{Diamond[open,fill=white,length=25pt,width=15pt]}] ([xshift=-67.4pt,yshift=-2pt]trans.south) |- (acctip);
\draw[conn,{Triangle[fill=black,length=9pt,width=8pt]}-{Triangle[fill=black,length=9pt,width=8pt]}] ([yshift=14pt]account.east) -- ([yshift=42pt]customer.west);
\draw[conn,-{Triangle[open,fill=white,length=17pt,width=18pt]}] ([xshift=86.3pt]checking.north) -- node[edgelabel,pos=.487] (ext1) {Extends} ([xshift=-72.4pt]account.south);
\draw[conn,-{Triangle[open,fill=white,length=17pt,width=18pt]}] ([xshift=-89.7pt]saving.north) -- node[edgelabel,pos=.524,yshift=-2pt] (ext2) {Extends} ([xshift=37.9pt]account.south);
% multiplicities
\node[multb] (m1) at (558,306) {1};
\node[mult] (m2) at (518.8,333) {*};
\node[multb] (m3) at (693,413) {1};
\node[mult] (m4) at (668,460) {*};
\node[multb] (m5) at (838,472) {1};
\node[mult] (m6) at (978.4,435) {*};
\node[multb] (m7) at (917.6,529) {*..1};
\node[multb] (m8) at (817,559) {*..1};
% page title
\node[font=\titlefont\fontsize{35.5}{40}\selectfont,inner sep=0pt,text=black] (pagetitle) at (1436,227) {1 exercise[Bank Systems]};
\end{tikzpicture}
\end{document}
